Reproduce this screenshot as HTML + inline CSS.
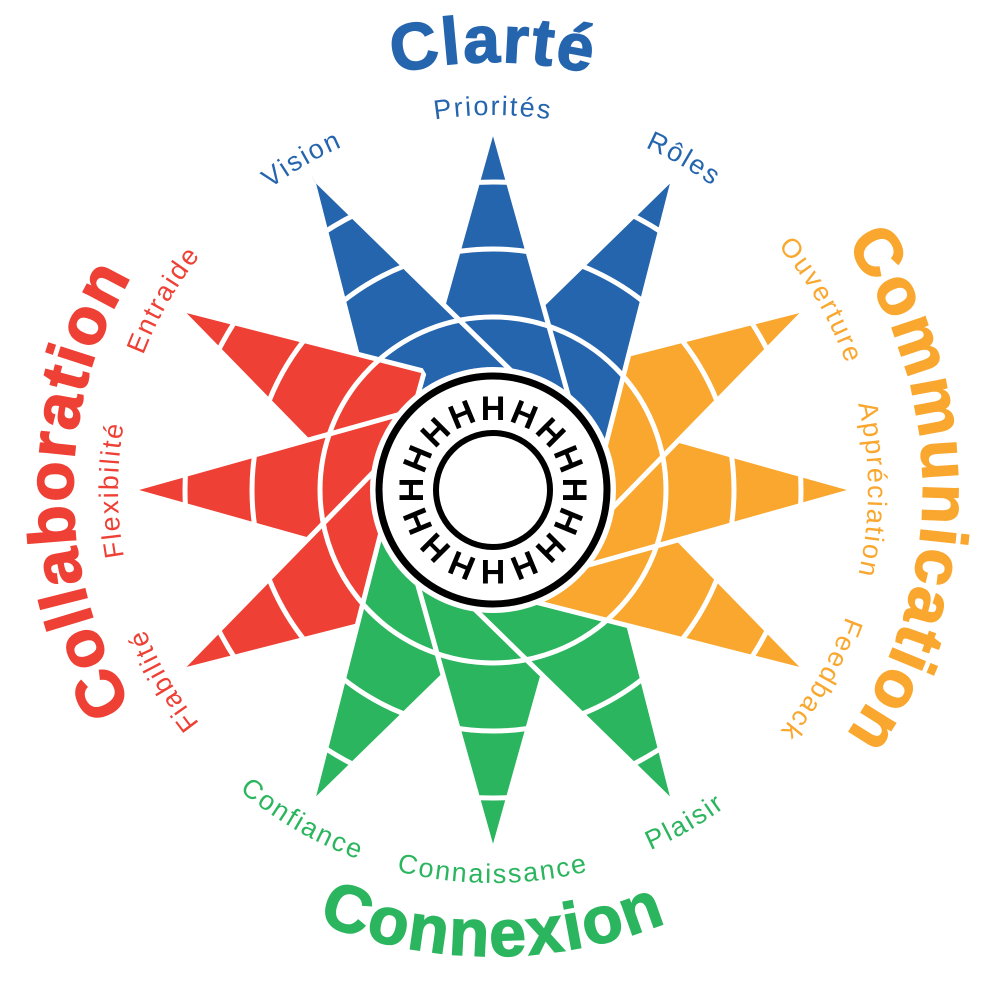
<!DOCTYPE html>
<html><head><meta charset="utf-8"><style>
html,body{margin:0;padding:0;background:#fff;}
svg{display:block;}
text{font-family:"Liberation Sans",sans-serif;}
.s{font-size:27px;letter-spacing:2px;}
.b{font-size:66px;font-weight:bold;letter-spacing:2px;stroke-width:1.5px;}
</style></head><body>
<svg width="987" height="983" viewBox="0 0 987 983" xmlns="http://www.w3.org/2000/svg">
<defs>
<polygon id="sp" points="493,127 601,512 385,512"/>
<clipPath id="half" clipPathUnits="userSpaceOnUse"><rect x="493" y="0" width="400" height="700"/></clipPath>
<path id="cw375" d="M493,865 A375,375 0 1 1 493,115 A375,375 0 1 1 493,865"/>
<path id="cw428" d="M493,918 A428,428 0 1 1 493,62 A428,428 0 1 1 493,918"/>
<path id="cw430" d="M493,920 A430,430 0 1 1 493,60 A430,430 0 1 1 493,920"/>
<path id="cw420" d="M493,910 A420,420 0 1 1 493,70 A420,420 0 1 1 493,910"/>
<path id="ccw393" d="M493,97 A393,393 0 1 0 493,883 A393,393 0 1 0 493,97"/>
<path id="ccw466" d="M493,24 A466,466 0 1 0 493,956 A466,466 0 1 0 493,24"/>
</defs>
<g stroke="#fff" stroke-width="5" stroke-linejoin="miter">
<use href="#sp" fill="#2565ae" transform="rotate(330 493 490)"/>
<use href="#sp" fill="#ee4035" transform="rotate(300 493 490)"/>
<use href="#sp" fill="#ee4035" transform="rotate(270 493 490)"/>
<use href="#sp" fill="#ee4035" transform="rotate(240 493 490)"/>
<use href="#sp" fill="#2bb55e" transform="rotate(210 493 490)"/>
<use href="#sp" fill="#2bb55e" transform="rotate(180 493 490)"/>
<use href="#sp" fill="#2bb55e" transform="rotate(150 493 490)"/>
<use href="#sp" fill="#f9a72e" transform="rotate(120 493 490)"/>
<use href="#sp" fill="#f9a72e" transform="rotate(90 493 490)"/>
<use href="#sp" fill="#f9a72e" transform="rotate(60 493 490)"/>
<use href="#sp" fill="#2565ae" transform="rotate(30 493 490)"/>
<use href="#sp" fill="#2565ae"/>
<g transform="rotate(330 493 490)"><use href="#sp" fill="#2565ae" clip-path="url(#half)"/></g>
</g>
<g fill="none" stroke="#fff" stroke-width="5">
<circle cx="493" cy="490" r="308"/>
<circle cx="493" cy="490" r="241"/>
<circle cx="493" cy="490" r="173"/>
</g>
<circle cx="493" cy="490" r="123" fill="#fff"/>
<circle cx="493" cy="490" r="114" fill="#fff" stroke="#000" stroke-width="7"/>
<circle cx="493" cy="490" r="57" fill="#fff" stroke="#000" stroke-width="6"/>
<g font-family="Liberation Sans" font-weight="bold" font-size="34" text-anchor="middle" fill="#000">
<text x="493" y="420" transform="rotate(0 493 490)">H</text>
<text x="493" y="420" transform="rotate(22.5 493 490)">H</text>
<text x="493" y="420" transform="rotate(45 493 490)">H</text>
<text x="493" y="420" transform="rotate(67.5 493 490)">H</text>
<text x="493" y="420" transform="rotate(90 493 490)">H</text>
<text x="493" y="420" transform="rotate(112.5 493 490)">H</text>
<text x="493" y="420" transform="rotate(135 493 490)">H</text>
<text x="493" y="420" transform="rotate(157.5 493 490)">H</text>
<text x="493" y="420" transform="rotate(180 493 490)">H</text>
<text x="493" y="420" transform="rotate(202.5 493 490)">H</text>
<text x="493" y="420" transform="rotate(225 493 490)">H</text>
<text x="493" y="420" transform="rotate(247.5 493 490)">H</text>
<text x="493" y="420" transform="rotate(270 493 490)">H</text>
<text x="493" y="420" transform="rotate(292.5 493 490)">H</text>
<text x="493" y="420" transform="rotate(315 493 490)">H</text>
<text x="493" y="420" transform="rotate(337.5 493 490)">H</text>
</g>
<g class="s" text-anchor="middle">
<text fill="#2565ae"><textPath href="#cw375" startOffset="41.667%">Vision</textPath></text>
<text fill="#2565ae"><textPath href="#cw375" startOffset="50%">Priorités</textPath></text>
<text fill="#2565ae"><textPath href="#cw375" startOffset="58.333%">Rôles</textPath></text>
<text fill="#f9a72e"><textPath href="#cw375" startOffset="66.667%">Ouverture</textPath></text>
<text fill="#f9a72e"><textPath href="#cw375" startOffset="75%">Appréciation</textPath></text>
<text fill="#f9a72e"><textPath href="#cw375" startOffset="83.333%">Feedback</textPath></text>
<text fill="#ee4035"><textPath href="#cw375" startOffset="16.667%">Fiabilité</textPath></text>
<text fill="#ee4035"><textPath href="#cw375" startOffset="25%">Flexibilité</textPath></text>
<text fill="#ee4035"><textPath href="#cw375" startOffset="33.333%">Entraide</textPath></text>
<text fill="#2bb55e"><textPath href="#ccw393" startOffset="41.667%">Confiance</textPath></text>
<text fill="#2bb55e"><textPath href="#ccw393" startOffset="50%">Connaissance</textPath></text>
<text fill="#2bb55e"><textPath href="#ccw393" startOffset="58.333%">Plaisir</textPath></text>
</g>
<g class="b" text-anchor="middle">
<text fill="#2565ae" stroke="#2565ae"><textPath href="#cw428" startOffset="50%">Clarté</textPath></text>
<text fill="#f9a72e" stroke="#f9a72e"><textPath href="#cw430" startOffset="75%">Communication</textPath></text>
<text fill="#ee4035" stroke="#ee4035"><textPath href="#cw420" startOffset="25%">Collaboration</textPath></text>
<text fill="#2bb55e" stroke="#2bb55e"><textPath href="#ccw466" startOffset="50%">Connexion</textPath></text>
</g>
</svg>
</body></html>
